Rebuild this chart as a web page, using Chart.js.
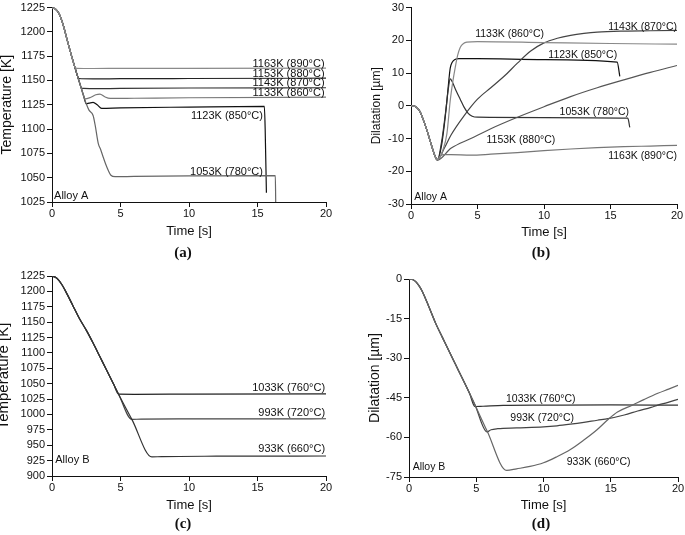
<!DOCTYPE html>
<html>
<head>
<meta charset="utf-8">
<script src="https://cdn.jsdelivr.net/npm/chart.js@4.4.0/dist/chart.umd.min.js"></script>
<style>
body { margin:0; background:#fff; width:685px; height:535px; position:relative; overflow:hidden; }
canvas { position:absolute; }
.tag { position:absolute; font:bold 15px "Liberation Serif", "Times New Roman", serif; color:#111; transform:translate(-50%,-50%); }
</style>
</head>
<body>
<canvas id="chartA" width="340" height="245" style="left:0;top:0"></canvas>
<canvas id="chartB" width="345" height="245" style="left:340px;top:0"></canvas>
<canvas id="chartC" width="344" height="260" style="left:-4px;top:260px"></canvas>
<canvas id="chartD" width="345" height="260" style="left:340px;top:260px"></canvas>
<div class="tag" style="left:183px;top:252px">(a)</div>
<div class="tag" style="left:541px;top:252px">(b)</div>
<div class="tag" style="left:183px;top:523px">(c)</div>
<div class="tag" style="left:541px;top:523px">(d)</div>
<script>
// time [s], value pairs
const timeTicks = [0, 5, 10, 15, 20];

// (a) alloy A temperature
const coolA = [[0,1225],[0.25,1223.5],[0.5,1219],[0.7,1212],[0.85,1205.5],[1.1,1192],[1.4,1176.5],[1.65,1164.5],[1.85,1155],[2.05,1146],[2.3,1134.5],[2.5,1126]];
const tempA1163 = [[1.8,1162.5],[3,1162.3],[5,1162.4],[10,1162.5],[20,1162.7]];
const tempA1153 = [[1.95,1152],[3,1151.6],[5,1151.8],[10,1152],[20,1152.3]];
const tempA1143 = [[2.15,1142],[3,1141.5],[5,1141.8],[10,1142.2],[20,1142.5]];
const tempA1133 = [[2.4,1131],[2.8,1132.5],[3.2,1135.3],[3.5,1136],[3.85,1133.2],[4.25,1131.5],[6,1131.7],[10,1132.2],[20,1132.8]];
const tempA1123 = [[2.7,1126.6],[3.0,1127.5],[3.3,1125],[3.62,1121.3],[5,1121.8],[10,1122.6],[15.5,1123.3],[15.56,1100],[15.65,1034.5]];
const tempA1053 = [[2.7,1119.5],[3.0,1114],[3.15,1104],[3.38,1085],[3.55,1079],[3.74,1071],[4.0,1061],[4.3,1052.5],[4.6,1051],[6,1051.3],[10,1051.8],[16.3,1052.2],[16.33,1024]];

// (b) alloy A dilatation
const coolB = [[0,0],[0.25,-0.1],[0.5,-0.8],[0.7,-2],[0.9,-4],[1.2,-7.5],[1.4,-10.2],[1.58,-12.6],[1.75,-14.8],[1.9,-16.2]];
const dilA1163 = [[2.0,-16.3],[2.2,-15.3],[2.5,-14.9],[3,-14.9],[4.5,-15.1],[6,-14.8],[8,-14.3],[10,-13.7],[12,-13.2],[14,-12.8],[16,-12.5],[18,-12.3],[20,-12.1]];
const dilA1153 = [[2.0,-16.6],[3,-13],[4.5,-10],[6,-7],[8,-3.5],[10,-0.3],[12,2.8],[14,5.5],[16,7.9],[18,10.2],[20,12.3]];
const dilA1143 = [[2.0,-16.5],[2.5,-13],[3,-9],[4,-3],[5,2],[6,5.5],[7,9],[8,13],[9,16.7],[10,19.2],[11,20.6],[12,21.5],[13,22.1],[14,22.5],[16,22.8],[18,22.9],[20,23]];
const dilA1133 = [[2.0,-16.5],[2.4,-13.5],[2.7,-8.5],[2.95,1.6],[3.15,7.5],[3.33,11.8],[3.5,15.3],[3.7,17.8],[3.95,19],[4.2,19.4],[5,19.6],[10,19.3],[15,19],[20,18.8]];
const dilA1123 = [[2.0,-16.5],[2.3,-12],[2.5,-6],[2.7,1.5],[2.85,8],[2.95,11.5],[3.1,13.3],[3.3,14.1],[3.6,14.4],[5,14.4],[10,14.1],[15.5,13.3],[15.7,9]];
const dilA1053 = [[2.0,-16.5],[2.3,-11],[2.6,-2],[2.8,5],[2.95,8.2],[3.1,7.3],[3.4,4.5],[3.7,2],[4.0,-0.5],[4.3,-2.3],[4.6,-3.2],[5,-3.5],[10,-3.6],[16.3,-3.8],[16.45,-6.6]];

// (c) alloy B temperature
const coolC = [[0,1225],[0.25,1223],[0.5,1218],[0.75,1210],[1,1200],[1.5,1178],[2,1156],[2.5,1137],[3,1116],[3.5,1093.7],[4,1071.4],[4.5,1049]];
const tempB1033 = [[4.86,1033],[6,1032.8],[10,1033],[20,1033.5]];
const tempB993 = [[4.86,1033],[5.83,992],[6.5,992.5],[10,992.8],[20,993]];
const tempB933 = [[4.86,1033],[5.83,992],[7.29,931],[8,931.5],[12,932.2],[20,932.5]];

// (d) alloy B dilatation
const coolD = [[0,0],[0.25,-0.2],[0.5,-1],[0.75,-2.6],[1,-4.8],[1.5,-10.8],[2,-17],[2.5,-22.3],[3,-27.6],[3.5,-32.8],[4,-38],[4.5,-43.3]];
const dilB1033 = [[4.9,-48.3],[5.5,-48.2],[7,-47.9],[10,-47.8],[15,-47.7],[20,-47.8]];
const dilB993 = [[4.9,-47.6],[5.8,-57.9],[6.1,-57.1],[6.6,-56.7],[8,-56.4],[10,-56],[11,-55.6],[12,-55],[13,-54.3],[14,-53.5],[14.8,-52.9],[16,-51.5],[17,-50],[18,-48.6],[18.5,-47.8],[19.2,-46.8],[20,-45.6]];
const dilB933 = [[4.9,-47.6],[5.8,-57.5],[7.26,-72.5],[8,-71.9],[9,-71],[10,-69.6],[11,-67.3],[12,-64.6],[13,-61],[14,-57],[14.8,-53.2],[15.5,-50.4],[16.6,-47.8],[17.5,-45.6],[18.5,-43.3],[19.3,-41.7],[20,-40.3]];

const family = '"Liberation Sans", Arial, sans-serif';

function branch(cool, tail) {
    const start = tail[0][0];
    return cool.filter(p => p[0] < start).concat(tail).map(p => ({x: p[0], y: p[1]}));
}

function line(cool, tail, color) {
    return {
        data: branch(cool, tail),
        borderColor: color,
        borderWidth: 1.2,
        pointRadius: 0,
        cubicInterpolationMode: 'monotone',
        fill: false
    };
}

const curveLabels = {
    id: 'curveLabels',
    afterDatasetsDraw(chart, args, opts) {
        const ctx = chart.ctx;
        const xs = chart.scales.x, ys = chart.scales.y;
        ctx.save();
        ctx.font = opts.size + 'px ' + family;
        ctx.fillStyle = '#111';
        ctx.textBaseline = 'middle';
        opts.items.forEach(([text, tx, ty, align]) => {
            ctx.textAlign = align;
            ctx.fillText(text, xs.getPixelForValue(tx), ys.getPixelForValue(ty));
        });
        ctx.restore();
    }
};

function makeChart(id, datasets, yMin, yMax, yStep, labels, box) {
    new Chart(document.getElementById(id), {
        type: 'line',
        data: {datasets: datasets},
        plugins: [curveLabels],
        options: {
            responsive: false,
            animation: false,
            layout: {autoPadding: false, padding: {left: box.padLeft, top: box.padTop, right: box.padRight, bottom: 0}},
            plugins: {
                legend: {display: false},
                tooltip: {enabled: false},
                curveLabels: {items: labels, size: box.labelSize}
            },
            scales: {
                x: {
                    type: 'linear', min: 0, max: 20,
                    afterBuildTicks: s => { s.ticks = timeTicks.map(v => ({value: v})); },
                    ticks: {color: '#111', padding: 0, font: {size: 11, family: family}, callback: v => String(v)},
                    grid: {drawOnChartArea: false, drawTicks: true, tickLength: 5, tickColor: '#111'},
                    border: {display: true, color: '#111', width: 1},
                    title: {display: true, text: 'Time [s]', color: '#111', font: {size: 13, family: family}, padding: {top: 0, bottom: box.xTitlePad}},
                    afterFit: s => { s.height = box.xHeight; }
                },
                y: {
                    type: 'linear', min: yMin, max: yMax,
                    ticks: {stepSize: yStep, color: '#111', padding: 2, font: {size: 11, family: family, lineHeight: 1}, callback: v => String(v)},
                    grid: {drawOnChartArea: false, drawTicks: true, tickLength: 5, tickColor: '#111'},
                    border: {display: true, color: '#111', width: 1},
                    title: {display: true, text: box.yTitle, color: '#111', font: {size: box.yTitleSize, family: family, lineHeight: 1}, padding: 0},
                    afterFit: s => { s.width = box.yWidth; }
                }
            }
        }
    });
}

window.addEventListener('load', function() {
    makeChart('chartA', [
        line(coolA, tempA1163, '#8a8a8a'),
        line(coolA, tempA1133, '#777'),
        line(coolA, tempA1053, '#666'),
        line(coolA, tempA1153, '#222'),
        line(coolA, tempA1143, '#333'),
        line(coolA, tempA1123, '#111')
    ], 1025, 1225, 25, [
        ['1163K (890°C)', 19.9, 1166.8, 'right'],
        ['1153K (880°C)', 19.9, 1157, 'right'],
        ['1143K (870°C)', 19.9, 1147.4, 'right'],
        ['1133K (860°C)', 19.9, 1137.5, 'right'],
        ['1123K (850°C)', 15.4, 1113, 'right'],
        ['1053K (780°C)', 15.4, 1055.5, 'right'],
        ['Alloy A', 0.15, 1031, 'left']
    ], {padLeft: 0, padTop: 6, padRight: 14, yWidth: 52, xHeight: 43, yTitle: 'Temperature [K]', yTitleSize: 14, xTitlePad: 6, labelSize: 11});

    makeChart('chartB', [
        line(coolB, dilA1133, '#888'),
        line(coolB, dilA1163, '#777'),
        line(coolB, dilA1153, '#555'),
        line(coolB, dilA1143, '#444'),
        line(coolB, dilA1053, '#333'),
        line(coolB, dilA1123, '#111')
    ], -30, 30, 10, [
        ['1143K (870°C)', 20, 24, 'right'],
        ['1133K (860°C)', 10, 21.9, 'right'],
        ['1123K (850°C)', 15.5, 15.6, 'right'],
        ['1053K (780°C)', 16.4, -1.8, 'right'],
        ['1153K (880°C)', 10.85, -10.4, 'right'],
        ['1163K (890°C)', 20, -15.3, 'right'],
        ['Alloy A', 0.25, -27.8, 'left']
    ], {padLeft: 31, padTop: 7, padRight: 8, yWidth: 40, xHeight: 41, yTitle: 'Dilatation [µm]', yTitleSize: 12, xTitlePad: 5, labelSize: 10.5});

    makeChart('chartC', [
        line(coolC, tempB933, '#333'),
        line(coolC, tempB993, '#444'),
        line(coolC, tempB1033, '#222')
    ], 900, 1225, 25, [
        ['1033K (760°C)', 19.93, 1043.3, 'right'],
        ['993K (720°C)', 19.93, 1002, 'right'],
        ['933K (660°C)', 19.93, 943.4, 'right'],
        ['Alloy B', 0.24, 925.5, 'left']
    ], {padLeft: 0, padTop: 16, padRight: 14, yWidth: 56, xHeight: 44, yTitle: 'Temperature [K]', yTitleSize: 15, xTitlePad: 7, labelSize: 11});

    makeChart('chartD', [
        line(coolD, dilB933, '#666'),
        line(coolD, dilB993, '#444'),
        line(coolD, dilB1033, '#333')
    ], -75, 0, 15, [
        ['1033K (760°C)', 9.8, -45.5, 'center'],
        ['993K (720°C)', 9.9, -52.7, 'center'],
        ['933K (660°C)', 14.1, -69.3, 'center'],
        ['Alloy B', 0.27, -71.2, 'left']
    ], {padLeft: 28, padTop: 19, padRight: 7, yWidth: 41, xHeight: 43, yTitle: 'Dilatation [µm]', yTitleSize: 14, xTitlePad: 7, labelSize: 10.5});
});
</script>
</body>
</html>
